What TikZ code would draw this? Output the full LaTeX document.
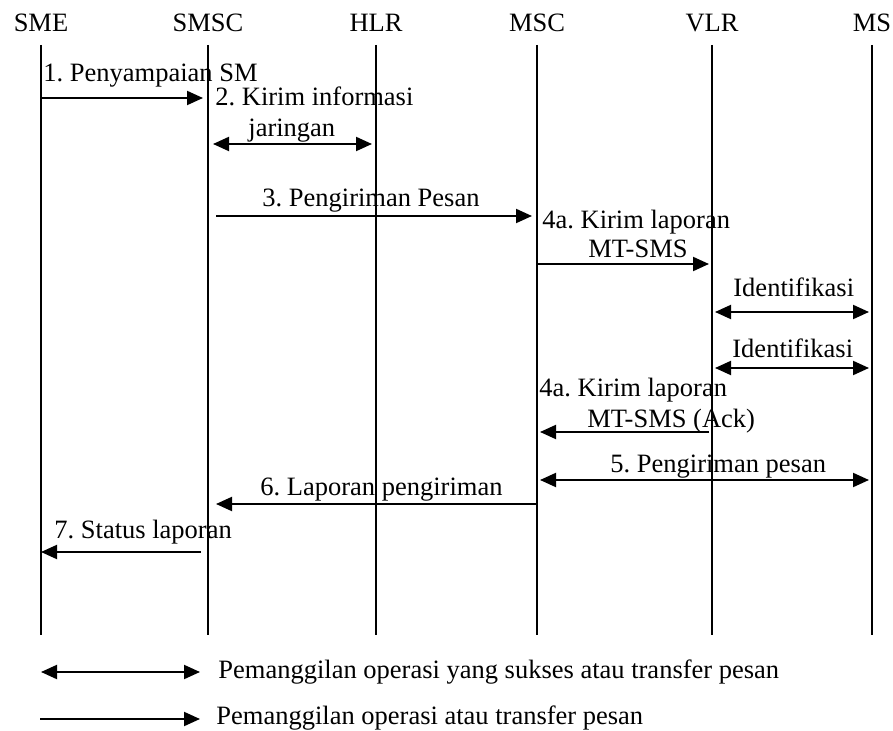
\documentclass[tikz,border=0pt]{standalone}
\usepackage{fontspec}
\setmainfont{Liberation Serif}
\usetikzlibrary{positioning,arrows.meta}
\tikzstyle{head}=[anchor=base, inner sep=0pt]
\tikzstyle{lbl}=[anchor=base west, inner sep=0pt]
\tikzstyle{line}=[-, line width=1pt]
\tikzstyle{myarrow}=[-{Triangle[length=8pt,width=7pt]}, line width=1pt]
\tikzstyle{dblarrow}=[{Triangle[length=8pt,width=7pt]}-{Triangle[length=8pt,width=7pt]}, line width=1pt]
\frenchspacing

\begin{document}
\begin{tikzpicture}[x=0.5pt, y=-0.5pt, font=\fontsize{13.25}{16}\selectfont]
    \useasboundingbox (0,0) rectangle (893,731);

    % lifelines
    \coordinate (bot) at (0,635);
    \foreach \n/\x in {SME/41, SMSC/208, HLR/376, MSC/537, VLR/712, MS/872} {
        \node[head] (\n) at (\x,32) {\n};
        \coordinate (l\n) at (\x,45);
        \draw[line] (l\n) -- (l\n |- bot);
    }

    % message rows
    \coordinate (m1) at (0,98);
    \coordinate (m2) at (0,144);
    \coordinate (m3) at (0,216);
    \coordinate (m4) at (0,264);
    \coordinate (m5) at (0,312);
    \coordinate (m6) at (0,368);
    \coordinate (m7) at (0,432);
    \coordinate (m8) at (0,480);
    \coordinate (m9) at (0,504);
    \coordinate (m10) at (0,552);

    \node[lbl] (Deliver) at (43,82) {1. Penyampaian SM};
    \draw[myarrow, shorten >=2.5pt] (lSME |- m1) -- (lSMSC |- m1);

    \node[lbl] (SendInfo) at (215,106) {2. Kirim informasi};
    \node[lbl] (SendInfoB) at (248,137) {jaringan};
    \draw[dblarrow, shorten <=2.5pt, shorten >=2pt] (lSMSC |- m2) -- (lHLR |- m2);

    \node[lbl] (Forward) at (262,207) {3. Pengiriman Pesan};
    \draw[myarrow, shorten <=4pt, shorten >=2.5pt] (lSMSC |- m3) -- (lMSC |- m3);

    \node[lbl] (Report) at (542,229) {4a. Kirim laporan};
    \node[lbl] (ReportB) at (588,258) {MT-SMS};
    \draw[myarrow, shorten >=1.5pt] (lMSC |- m4) -- (lVLR |- m4);

    \node[lbl] (Ident) at (733,297) {Identifikasi};
    \draw[dblarrow, shorten <=1.5pt, shorten >=1.5pt] (lVLR |- m5) -- (lMS |- m5);

    \node[lbl] (IdentB) at (732,358) {Identifikasi};
    \draw[dblarrow, shorten <=1.5pt, shorten >=1.5pt] (lVLR |- m6) -- (lMS |- m6);

    \node[lbl] (Ack) at (539,397) {4a. Kirim laporan};
    \node[lbl] (AckB) at (587,428) {MT-SMS (Ack)};
    \draw[myarrow, shorten <=1.5pt, shorten >=1.5pt] (lVLR |- m7) -- (lMSC |- m7);

    \node[lbl] (Transfer) at (610,473) {5. Pengiriman pesan};
    \draw[dblarrow, shorten <=1.5pt, shorten >=1.5pt] (lMSC |- m8) -- (lMS |- m8);

    \node[lbl] (DelivRep) at (260,495) {6. Laporan pengiriman};
    \draw[myarrow, shorten >=4pt] (lMSC |- m9) -- (lSMSC |- m9);

    \node[lbl] (Status) at (54,538) {7. Status laporan};
    \draw[myarrow, shorten <=3.5pt] (lSMSC |- m10) -- (lSME |- m10);

    % legend
    \coordinate (LegA) at (41,672);
    \coordinate (LegB) at (200,672);
    \coordinate (LegC) at (40,719);
    \coordinate (LegD) at (200,719);
    \draw[dblarrow] (LegA) -- (LegB);
    \node[lbl] (LegText) at (218,678) {Pemanggilan operasi yang sukses atau transfer pesan};
    \draw[myarrow] (LegC) -- (LegD);
    \node[lbl] (LegTextB) at (216,724) {Pemanggilan operasi atau transfer pesan};
\end{tikzpicture}
\end{document}
